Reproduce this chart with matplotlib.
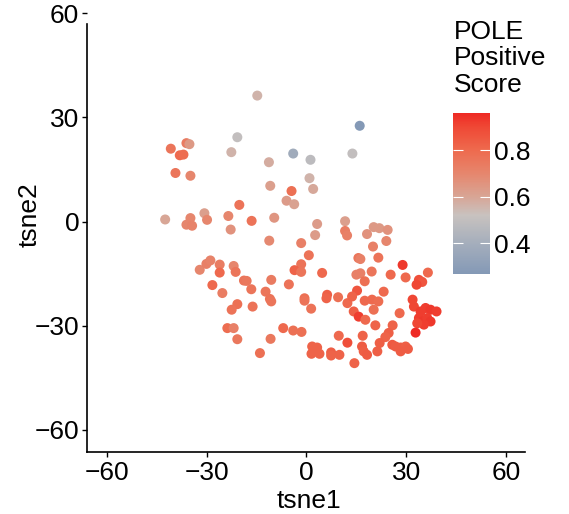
import matplotlib
matplotlib.use('Agg')
import matplotlib.pyplot as plt
from matplotlib.colors import LinearSegmentedColormap, Normalize
import matplotlib.cm as cm

plt.rcParams['font.family'] = ['Liberation Sans', 'DejaVu Sans']

# t-SNE coordinates and POLE positive score
tsne1 = [-14.8, 16.0, -20.8, -40.8, -36.1, -35.2, -38.1, -37.0, -22.6, -4.0,
         1.2, 13.8, -11.3, -39.4, -34.9, 0.9, -10.9, 2.0, -4.5, -6.0,
         -3.7, -42.5, -34.9, -36.1, -34.4, -30.7, -29.9, -23.5, -20.2, -22.8,
         -16.5, -9.7, 3.2, 2.6, 11.6, 11.6, 12.2, -11.2, -1.6, 18.2,
         20.2, 21.9, 24.4, 24.0, 20.0, 0.7, 15.6, 16.2, 21.6, 28.9,
         -32.1, -30.1, -28.9, -26.1, -26.1, -21.9, -21.3, -18.8, -18.0, -28.3,
         -1.6, -3.6, -1.6, 4.7, -10.6, -5.3, 15.0, 16.2, 19.6, 17.5,
         25.3, 29.8, 36.5, 33.8, 34.8, 33.1, -25.3, -20.8, -22.5, -16.6,
         -16.2, -12.3, -11.0, -10.6, -23.8, -21.9, -20.8, -0.6, -0.6, 1.4,
         6.2, 6.0, 9.5, 12.3, -7.0, -4.0, -1.5, -10.8, 9.7, 12.3,
         1.7, 3.2, 1.5, 3.9, -14.0, 7.4, 7.4, 9.9, 15.2, 13.7,
         23.2, 17.5, 19.7, 21.6, 20.2, 14.2, 15.7, 17.7, 20.7, 28.0,
         25.9, 31.9, 32.3, 34.3, 35.8, 37.3, 39.1, 33.8, 34.8, 36.3,
         37.3, 35.3, 33.3, 32.8, 16.9, 24.7, 23.7, 22.0, 25.8, 26.8,
         28.3, 29.8, 30.5, 28.3, 16.7, 17.2, 18.2, 21.3, 14.4]
tsne2 = [36.3, 27.6, 24.3, 21.0, 22.6, 22.3, 19.1, 19.3, 20.0, 19.6,
         17.8, 19.6, 17.1, 14.0, 13.2, 12.5, 10.3, 9.4, 8.8, 6.0,
         5.0, 0.6, 1.0, -0.9, -1.2, 2.4, 0.5, 1.6, 4.8, -2.3,
         0.2, 1.1, -0.7, -3.9, 0.1, -2.7, -4.0, -5.5, -6.2, -3.6,
         -1.6, -1.9, -2.4, -5.6, -7.2, -9.7, -10.5, -10.8, -10.4, -12.5,
         -13.9, -12.2, -11.2, -12.4, -14.7, -12.8, -14.5, -17.0, -17.1, -18.3,
         -12.3, -14.0, -14.5, -14.8, -16.8, -18.1, -15.3, -14.9, -14.4, -17.2,
         -15.3, -16.1, -14.7, -16.8, -17.4, -18.2, -20.6, -23.8, -25.4, -19.5,
         -24.5, -20.2, -22.3, -23.0, -30.7, -30.7, -33.9, -22.1, -22.8, -25.1,
         -21.1, -22.1, -21.8, -23.5, -30.7, -31.4, -31.8, -33.8, -32.9, -34.9,
         -36.0, -36.3, -38.1, -38.1, -37.9, -37.7, -38.6, -38.4, -19.9, -21.6,
         -20.2, -22.8, -22.5, -23.0, -25.4, -25.9, -27.4, -28.3, -29.9, -26.4,
         -29.9, -22.5, -24.5, -25.9, -24.9, -25.4, -25.9, -27.8, -28.8, -27.8,
         -28.8, -29.7, -29.3, -32.0, -32.9, -32.1, -33.3, -35.0, -35.5, -36.0,
         -36.3, -36.0, -36.7, -37.4, -36.0, -37.4, -38.4, -37.4, -40.8]
score = [0.56, 0.27, 0.50, 0.76, 0.74, 0.64, 0.80, 0.79, 0.56, 0.38,
         0.48, 0.50, 0.58, 0.76, 0.70, 0.56, 0.62, 0.59, 0.78, 0.63,
         0.61, 0.60, 0.70, 0.70, 0.71, 0.62, 0.70, 0.70, 0.77, 0.66,
         0.77, 0.65, 0.63, 0.63, 0.62, 0.73, 0.72, 0.69, 0.72, 0.66,
         0.64, 0.64, 0.66, 0.70, 0.72, 0.77, 0.76, 0.72, 0.77, 0.93,
         0.70, 0.72, 0.71, 0.73, 0.80, 0.70, 0.76, 0.76, 0.75, 0.80,
         0.77, 0.82, 0.76, 0.80, 0.74, 0.77, 0.72, 0.72, 0.76, 0.78,
         0.80, 0.80, 0.80, 0.88, 0.86, 0.90, 0.73, 0.78, 0.77, 0.76,
         0.77, 0.76, 0.77, 0.76, 0.79, 0.72, 0.75, 0.78, 0.77, 0.77,
         0.83, 0.82, 0.78, 0.80, 0.80, 0.78, 0.78, 0.75, 0.80, 0.88,
         0.82, 0.82, 0.82, 0.82, 0.78, 0.83, 0.82, 0.82, 0.86, 0.82,
         0.80, 0.80, 0.80, 0.79, 0.78, 0.83, 0.92, 0.80, 0.82, 0.80,
         0.82, 0.90, 0.90, 0.92, 0.92, 0.93, 0.92, 0.92, 0.93, 0.92,
         0.93, 0.92, 0.90, 0.96, 0.82, 0.83, 0.82, 0.83, 0.85, 0.84,
         0.84, 0.83, 0.84, 0.84, 0.84, 0.83, 0.84, 0.83, 0.82]

vmin, vmax = 0.268, 0.959
stops = [0.268, 0.4, 0.52, 0.6, 0.7, 0.8, 0.9, 0.959]
stop_colors = ['#8499B6', '#A5AEBC', '#C8C2BF', '#D8A595', '#E6866D',
               '#EE6A4E', '#EF4835', '#EE2A24']
cmap = LinearSegmentedColormap.from_list(
    'pole', [((s - vmin) / (vmax - vmin), c) for s, c in zip(stops, stop_colors)])
norm = Normalize(vmin=vmin, vmax=vmax)

fig = plt.figure(figsize=(5.69, 5.14), dpi=100)
W, H = 569, 514
ax = fig.add_axes([87 / W, (514 - 452) / H, (525 - 87) / W, (452 - 6.4) / H])

ax.scatter(tsne1, tsne2, c=score, cmap=cmap, norm=norm, s=52, linewidths=0, zorder=3)

ax.set_xlim(-66.0, 65.7)
ax.set_ylim(-66.4, 62)
ax.set_xticks([-60, -30, 0, 30, 60])
ax.set_yticks([-60, -30, 0, 30, 60])
for side in ['top', 'right']:
    ax.spines[side].set_visible(False)
for side in ['left', 'bottom']:
    ax.spines[side].set_linewidth(1.2)
ax.spines['left'].set_bounds(-66.4, 56.9)
ax.tick_params(length=3.5, width=1.0, labelsize=19, pad=2, colors='black')
ax.tick_params(axis='x', pad=3)

# axis titles, placed by baseline like the reference
ax.set_xlabel('tsne1', fontsize=19, va='baseline')
ax.xaxis.set_label_coords((308.5 - 87) / 438, (452 - 507.5) / 445.6)
ax.set_ylabel('tsne2', fontsize=19, va='baseline', ha='center', rotation_mode='anchor')
ax.yaxis.set_label_coords((37 - 87) / 438, (452 - 215) / 445.6)

# colour bar legend
cax = fig.add_axes([452.7 / W, (514 - 274) / H, 37.3 / W, 161 / H])
cb = fig.colorbar(cm.ScalarMappable(norm=norm, cmap=cmap), cax=cax)
cb.outline.set_visible(False)
cb.set_ticks([0.4, 0.6, 0.8])
cax.tick_params(axis='y', direction='in', color='white', length=7, width=0.8,
                left=True, right=True, labelleft=False, labelright=True,
                labelsize=19, pad=3)
fig.text(454 / W, 1 - 20 / H, 'POLE\nPositive\nScore', fontsize=19,
         va='top', ha='left', linespacing=1.12)

fig.savefig('out.png', dpi=100)
